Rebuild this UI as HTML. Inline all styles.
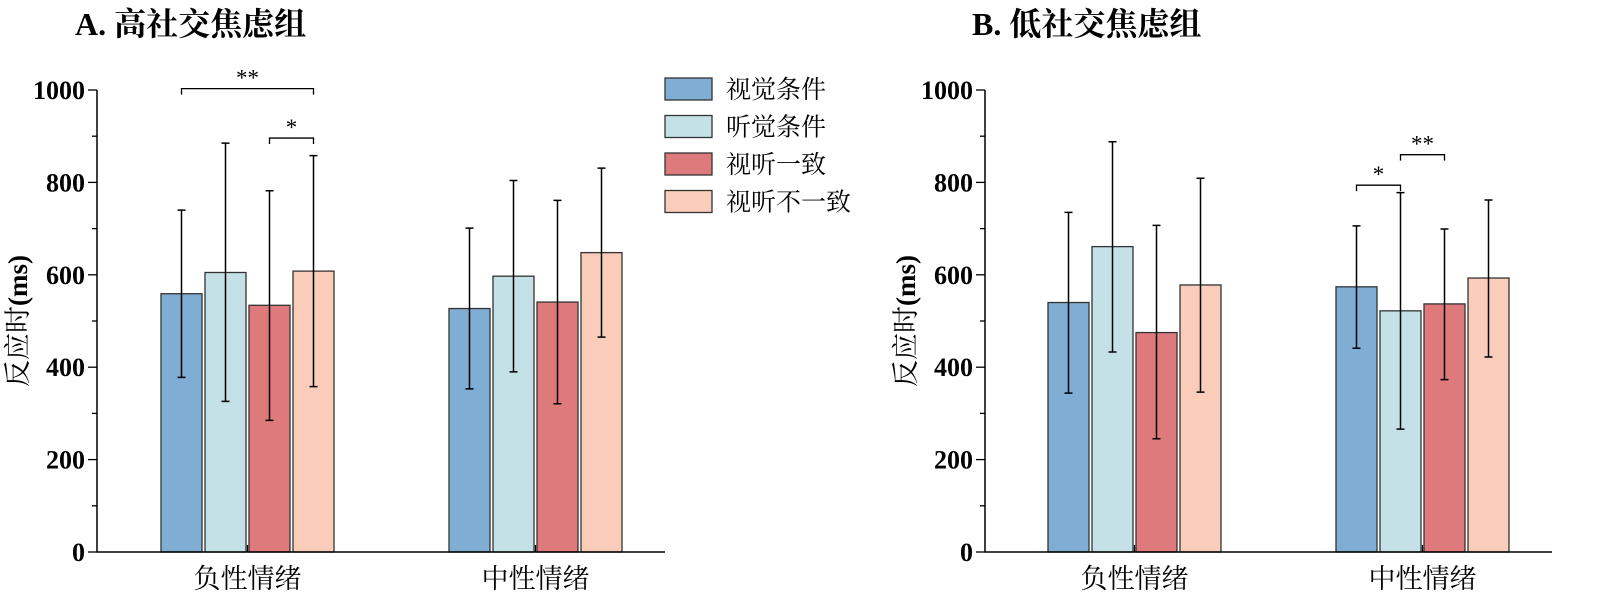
<!DOCTYPE html>
<html><head><meta charset="utf-8"><style>
html,body{margin:0;padding:0;background:#fff;}
svg{display:block;font-family:"Liberation Serif","Noto Serif CJK SC","Noto Sans CJK SC",serif;}
</style></head><body>
<svg id="c" width="1600" height="607" viewBox="0 0 1600 607" xmlns="http://www.w3.org/2000/svg">
<text x="75" y="35" font-size="32" font-weight="bold">A. 高社交焦虑组</text>
<text x="972" y="35" font-size="32" font-weight="bold">B. 低社交焦虑组</text>
<g id="legend"></g>
</svg>
<script>
const categories = ["负性情绪", "中性情绪"];
const seriesNames = ["视觉条件", "听觉条件", "视听一致", "视听不一致"];
const colors = ["#7fadd3", "#c5e1e8", "#de7a7c", "#f9cdb9"];
const yTicks = [0, 200, 400, 600, 800, 1000];
// Panel A
const aMeans = [[559, 527], [605, 597], [534, 541], [608, 648]];
const aUpper = [[740, 701], [885, 804], [782, 761], [858, 831]];
const aLower = [[378, 353], [326, 390], [285, 321], [358, 465]];
// Panel B
const bMeans = [[540, 574], [661, 522], [475, 537], [578, 593]];
const bUpper = [[735, 706], [888, 778], [707, 699], [809, 762]];
const bLower = [[344, 441], [433, 266], [245, 373], [346, 422]];
// significance brackets: [category, seriesFrom, seriesTo, level, label]
const aSig = [[0, 0, 3, 1003, "**"], [0, 2, 3, 896, "*"]];
const bSig = [[1, 0, 1, 794, "*"], [1, 1, 2, 860, "**"]];

const NS = "http://www.w3.org/2000/svg";
const svg = document.getElementById("c");
function mk(tag, attrs, parent) {
  const e = document.createElementNS(NS, tag);
  for (const k in attrs) e.setAttribute(k, attrs[k]);
  (parent || svg).appendChild(e);
  return e;
}
const y0 = 552, y1 = 90;
function yScale(v) { return y0 - (v / 1000) * (y0 - y1); }

function panel(id, axisX, axisEnd, groupStarts, means, upper, lower, sig) {
  const g = mk("g", {});
  
  
  const barW = 41, step = 44;
  const xOf = (c, s) => groupStarts[c] + s * step;
  for (let s = 0; s < 4; s++) for (let c = 0; c < categories.length; c++) {
    const x = xOf(c, s), yt = yScale(means[s][c]);
    const r = mk("rect", {x: x, y: yt, width: barW, height: y0 - yt, fill: colors[s], stroke: "#333", "stroke-width": 1.3}, g);
    
    
    const cx = x + barW / 2, yu = yScale(upper[s][c]), yl = yScale(lower[s][c]);
    const eb = mk("path", {d: `M${cx},${yu}V${yl}M${cx-4},${yu}H${cx+4}M${cx-4},${yl}H${cx+4}`, stroke: "#000", "stroke-width": 1.5, fill: "none"}, g);
    
    
  }
  const ax = mk("path", {d: `M${axisX},${y1}V${y0}H${axisEnd}`, stroke: "#000", "stroke-width": 1.5, fill: "none"}, g);
  
  
  for (let v = 0; v <= 1000; v += 100) {
    const major = v % 200 === 0;
    mk("line", {x1: axisX - (major ? 9 : 5), x2: axisX, y1: yScale(v), y2: yScale(v), stroke: "#000", "stroke-width": 1.3}, g);
  }
  yTicks.forEach(v => {
    const t = mk("text", {x: axisX - 12, y: yScale(v) + 9, "font-size": 26, "font-weight": "bold", "text-anchor": "end"}, g);
    t.textContent = v;
    
    
  });
  categories.forEach((cat, c) => {
    const cx = groupStarts[c] + (3 * step + barW) / 2;
    mk("line", {x1: cx, x2: cx, y1: y0, y2: y0 - 7, stroke: "#000", "stroke-width": 1.3}, g);
    const t = mk("text", {x: cx, y: 588, "font-size": 27, "text-anchor": "middle"}, g);
    t.textContent = cat;
    
    
  });
  const yt = mk("text", {transform: `translate(${axisX - 70},${yScale(500)}) rotate(-90)`, "font-size": 27, "text-anchor": "middle"}, g);
  yt.innerHTML = '反应时<tspan font-weight="bold">(ms)</tspan>';
  
  
  sig.forEach(([c, a, b, lvl, lab]) => {
    const xa = xOf(c, a) + barW / 2, xb = xOf(c, b) + barW / 2, yy = yScale(lvl);
    const p = mk("path", {d: `M${xa},${yy + 6}V${yy}H${xb}V${yy + 6}`, stroke: "#000", "stroke-width": 1.3, fill: "none"}, g);
    
    
    const t = mk("text", {x: (xa + xb) / 2, y: yy - 3, "font-size": 23, "text-anchor": "middle"}, g);
    t.textContent = lab;
    
    
  });
}
panel("panel-a", 97, 665, [161, 449], aMeans, aUpper, aLower, aSig);
panel("panel-b", 985, 1552, [1048, 1336], bMeans, bUpper, bLower, bSig);

const lg = document.getElementById("legend");
seriesNames.forEach((n, i) => {
  const yy = 78 + i * 37.5;
  const r = mk("rect", {x: 665, y: yy, width: 47, height: 22, fill: colors[i], stroke: "#333", "stroke-width": 1.3}, lg);
  
  
  const t = mk("text", {x: 726, y: yy + 20, "font-size": 25}, lg);
  t.textContent = n;
  
  
});
</script>
</body></html>
